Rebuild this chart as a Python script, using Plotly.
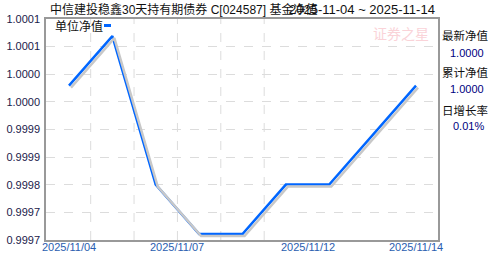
import plotly.graph_objects as go
import numpy as np

# ---- data ----
dates = ["2025/11/04", "2025/11/05", "2025/11/06", "2025/11/07", "2025/11/10",
         "2025/11/11", "2025/11/12", "2025/11/13", "2025/11/14"]
nav = [1.0000, 1.0001, 0.9998, 0.9997, 0.9997, 0.9998, 0.9998, 0.9999, 1.0000]
tick_pos = [0, 2.5, 5.5, 8]
tick_text = ["2025/11/04", "2025/11/07", "2025/11/12", "2025/11/14"]
grid_x = [0.5, 1.5, 2.5, 3.5, 4.5]
y_range = [0.999688, 1.0001345]
y_ticks = list(np.linspace(y_range[0], y_range[1], 9))
y_ticktext = [f"{v:.4f}" for v in y_ticks]
title_left = "中信建投稳鑫30天持有期债券 C[024587] 基金净值"
title_right = "2025-11-04 ~ 2025-11-14"
side_labels = ["最新净值", "累计净值", "日增长率"]
side_values = ["1.0000", "1.0000", "0.01%"]
legend_name = "单位净值"

W, H = 488, 255
L, R, T, B = 46, 50, 19, 15
pw, ph = W - L - R, H - T - B
x_range = [-0.53, 8.507]
xu = (x_range[1] - x_range[0]) / pw
yu = (y_range[1] - y_range[0]) / ph

xi = list(range(len(dates)))
font = "Liberation Sans, Arial, Noto Sans CJK SC, sans-serif"

fig = go.Figure()
# shadow
fig.add_trace(go.Scatter(x=xi, y=nav, mode="lines", xaxis="x2", yaxis="y2",
                         line=dict(color="#c8c8c8", width=2.5), hoverinfo="skip",
                         showlegend=False))
fig.add_trace(go.Scatter(x=xi, y=nav, mode="lines", name=legend_name,
                         line=dict(color="#0066ff", width=2.5), showlegend=False))

shapes = []
for gx in grid_x:
    shapes.append(dict(type="line", xref="x", yref="paper", x0=gx, x1=gx, y0=0, y1=1,
                       line=dict(color="#dcdcdc", width=1, dash="dash"), layer="below"))
# legend marker
shapes.append(dict(type="rect", xref="paper", yref="paper",
                   x0=(104 - L) / pw, x1=(111 - L) / pw,
                   y0=(H - B - 27) / ph, y1=(H - B - 24) / ph,
                   fillcolor="#0066ff", line=dict(width=0)))

ann = []
ann.append(dict(text=legend_name, xref="paper", yref="paper", x=(53 - L) / pw,
                y=(H - B - 27) / ph, xanchor="left", yanchor="middle", showarrow=False,
                font=dict(size=12, color="#111111", family=font)))
ann.append(dict(text=title_left, xref="paper", yref="paper", x=(48 - L) / pw,
                y=(H - B - 10) / ph, xanchor="left", yanchor="middle", showarrow=False,
                font=dict(size=12, color="#111111", family=font)))
ann.append(dict(text=title_right, xref="paper", yref="paper", x=(437 - L) / pw,
                y=(H - B - 10) / ph, xanchor="right", yanchor="middle", showarrow=False,
                font=dict(size=13, color="#111111", family=font)))
ann.append(dict(text="证券之星", xref="paper", yref="paper", x=(431 - L) / pw,
                y=(H - B - 33) / ph, xanchor="right", yanchor="middle", showarrow=False,
                font=dict(size=14, color="#fad3d8", family="Noto Sans CJK SC")))
lab_y = [36, 72, 110]
val_y = [53, 89, 126]
for s, v, ly, vy in zip(side_labels, side_values, lab_y, val_y):
    ann.append(dict(text=s, xref="paper", yref="paper", x=(440 - L) / pw,
                    y=(H - B - ly) / ph, xanchor="left", yanchor="middle", showarrow=False,
                    font=dict(size=11.5, color="#111111", family=font)))
    ann.append(dict(text=v, xref="paper", yref="paper", x=(486 - L) / pw,
                    y=(H - B - vy) / ph, xanchor="right", yanchor="middle", showarrow=False,
                    font=dict(size=11, color="#000080", family=font)))
# x tick labels (as annotations to sit tight under the axis)
for tp, tt in zip(tick_pos, tick_text):
    ann.append(dict(text=tt, xref="x", yref="paper", x=tp, y=-(247 - (H - B)) / ph,
                    xanchor="center", yanchor="middle", showarrow=False,
                    font=dict(size=11, color="#2a5db0", family=font)))

fig.update_layout(
    width=W, height=H, margin=dict(l=L, r=R, t=T, b=B, pad=0, autoexpand=False),
    paper_bgcolor="white", plot_bgcolor="white", showlegend=False,
    xaxis=dict(range=x_range, showticklabels=False, showgrid=False,
               automargin=False,
               zeroline=False, showline=True, mirror=True, linecolor="#999999", linewidth=1.5,
               ticks=""),
    yaxis=dict(range=y_range, tickvals=y_ticks, ticktext=y_ticktext, showgrid=True,
               automargin=False,
               gridcolor="#dcdcdc", griddash="dash", zeroline=False, showline=True,
               mirror=True, linecolor="#999999", linewidth=1.5, ticks="",
               ticklabelstandoff=2, tickfont=dict(size=11, color="#1a1a4a", family=font)),
    xaxis2=dict(range=[x_range[0] - 2 * xu, x_range[1] - 2 * xu], overlaying="x",
                visible=False, showgrid=False, automargin=False),
    yaxis2=dict(range=[y_range[0] + 2 * yu, y_range[1] + 2 * yu], overlaying="y",
                visible=False, showgrid=False, automargin=False),
    shapes=shapes, annotations=ann,
)
fig.write_html("out.html")
